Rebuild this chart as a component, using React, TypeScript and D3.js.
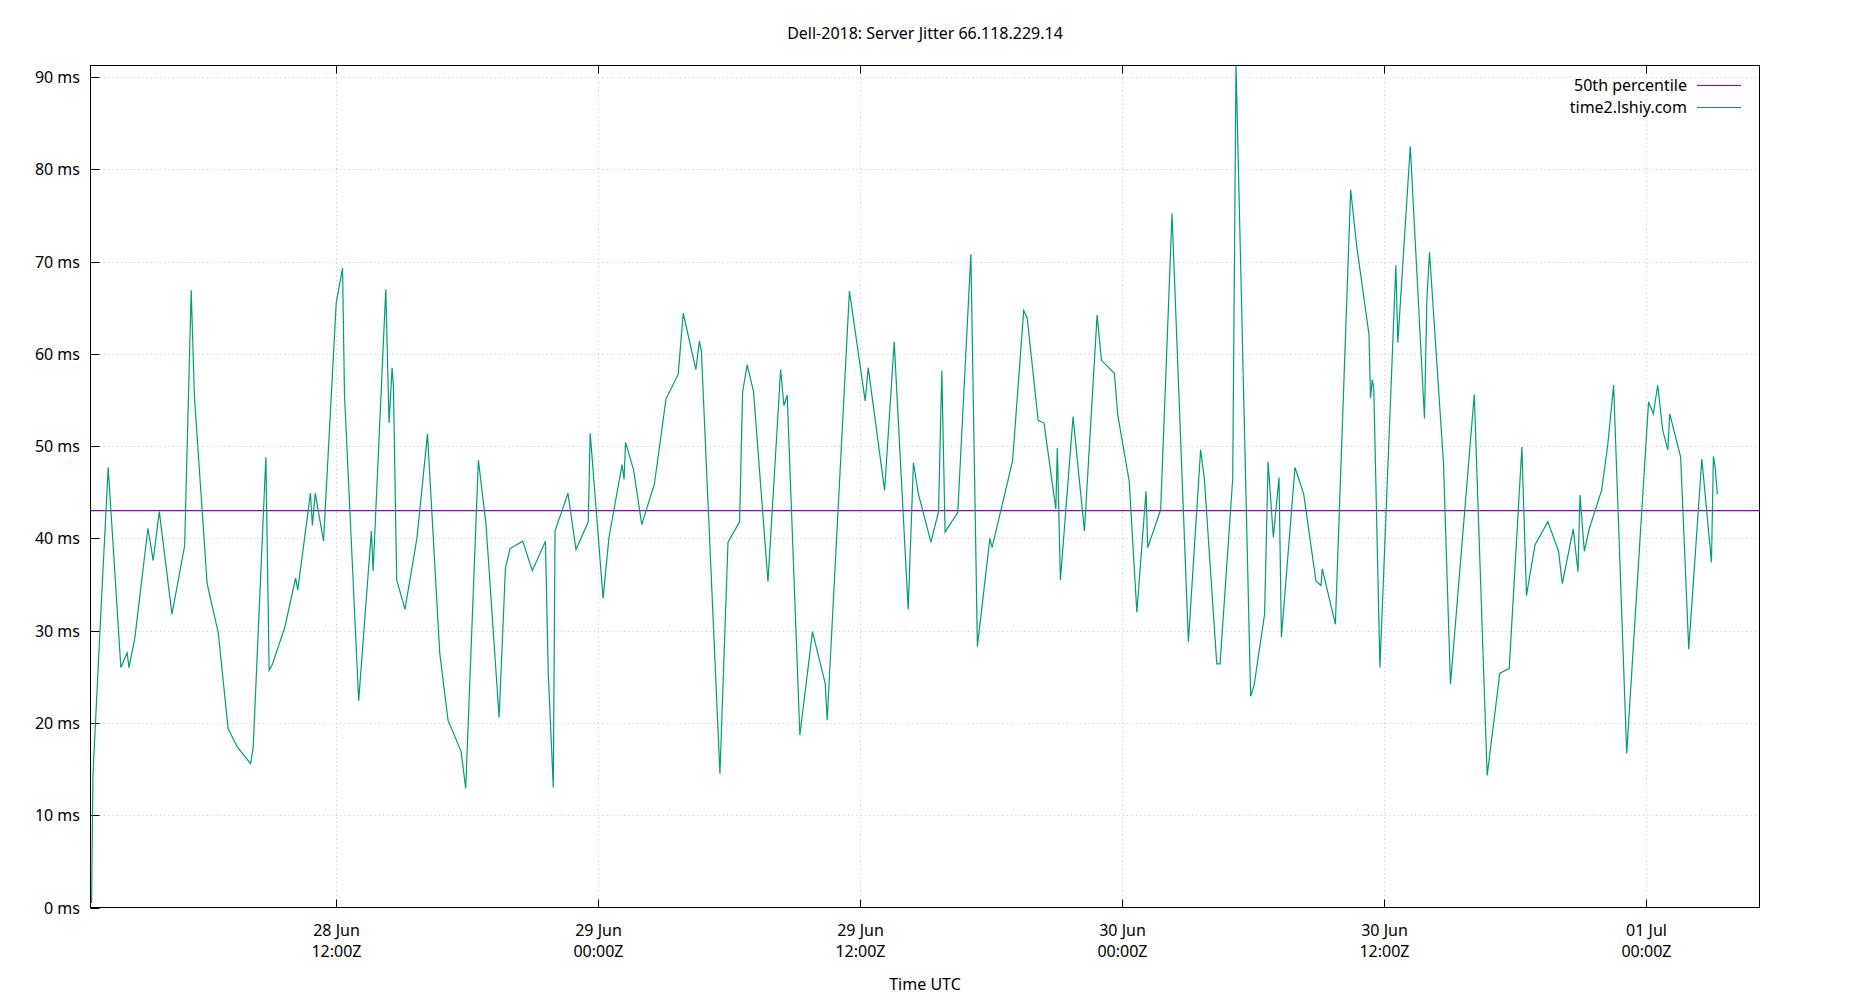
import { useEffect, useRef } from 'react';
import * as d3 from 'd3';

// sample times, hours after 28 Jun 00:00Z
const sampleHours = [
  0.82, 0.88, 1.0, 1.23, 1.58, 2.16, 2.45, 2.53, 2.8, 3.4, 3.64, 3.92, 4.5, 5.08, 5.38, 5.53,
  6.11, 6.62, 7.07, 7.49, 8.1, 8.22, 8.8, 8.95, 9.09, 9.67, 10.16, 10.26, 10.84, 10.93, 11.06,
  11.44, 12.02, 12.31, 12.4, 13.05, 13.63, 13.71, 14.29, 14.44, 14.58, 14.64, 14.79, 15.17,
  15.72, 16.2, 16.76, 17.14, 17.74, 17.95, 18.53, 18.88, 19.48, 19.77, 19.98, 20.56, 21.0,
  21.6, 21.73, 21.96, 22.04, 22.63, 23.0, 23.56, 23.65, 24.24, 24.51, 25.11, 25.2, 25.27,
  25.64, 26.01, 26.59, 27.12, 27.68, 27.91, 28.49, 28.65, 28.74, 29.59, 29.96, 30.49, 30.63,
  30.84, 31.13, 31.79, 32.37, 32.52, 32.67, 33.25, 33.83, 34.41, 34.5, 35.52, 36.24, 36.38,
  37.13, 37.57, 38.21, 38.45, 38.68, 39.25, 39.6, 39.75, 39.9, 40.48, 41.08, 41.38, 41.95,
  42.05, 42.99, 43.5, 43.66, 44.16, 44.43, 44.97, 45.04, 45.18, 45.76, 46.28, 46.86, 47.06,
  47.65, 47.81, 48.33, 48.68, 49.1, 49.18, 49.77, 50.29, 51.04, 51.6, 51.77, 52.34, 52.49,
  53.07, 53.22, 53.89, 54.05, 54.53, 54.69, 54.93, 55.19, 55.3, 55.92, 56.32, 56.88, 57.11,
  57.17, 57.77, 58.47, 58.74, 59.31, 59.38, 59.46, 59.53, 59.81, 60.54, 60.63, 61.2, 61.85,
  61.96, 62.08, 62.72, 63.04, 64.13, 64.72, 65.3, 65.73, 66.31, 66.52, 66.91, 67.5, 67.99,
  68.16, 68.66, 68.88, 68.97, 69.17, 69.4, 69.96, 70.24, 70.51, 71.11, 72.11, 72.33, 72.53,
  72.76, 72.99, 73.08, 73.58, 73.95, 74.55, 74.99, 75.08, 75.16, 75.26,
];

// jitter in ms for time2.lshiy.com
const jitterMs = [
  0.5, 14.2, 20.1, 31.3, 47.7, 26.0, 27.6, 26.0, 29.2, 41.1, 37.6, 42.9, 31.8, 39.2, 66.9, 55.3,
  35.1, 29.8, 19.4, 17.4, 15.6, 17.4, 48.8, 25.7, 26.3, 30.4, 35.7, 34.4, 44.9, 41.4, 44.9,
  39.7, 65.5, 69.3, 55.6, 22.4, 40.8, 36.5, 67.0, 52.5, 58.5, 56.5, 35.5, 32.3,
  40.1, 51.3, 27.6, 20.3, 16.9, 12.9, 48.5, 41.5, 20.6, 36.8, 38.9, 39.7, 36.5,
  39.7, 25.4, 13.0, 40.8, 44.9, 38.8, 41.8, 51.4, 33.5, 40.1, 48.0, 46.4, 50.4,
  47.4, 41.5, 45.9, 55.1, 57.8, 64.4, 58.3, 61.4, 60.3, 14.5, 39.6, 41.8, 55.9,
  58.8, 55.9, 35.3, 58.3, 54.4, 55.5, 18.7, 29.9, 24.3, 20.3, 66.8, 54.9, 58.5,
  45.2, 61.3, 32.3, 48.2, 44.8, 39.6, 42.9, 58.2, 40.7, 42.8, 70.8, 28.3, 40.0,
  39.0, 48.4, 64.7, 63.9, 52.8, 52.5, 43.2, 49.8, 35.5, 53.2, 40.8, 64.2, 59.3,
  57.9, 53.3, 46.2, 32.0, 45.1, 39.0, 43.1, 75.2, 28.8, 49.6, 46.5, 26.4, 26.4,
  46.5, 91.5, 22.9, 24.1, 31.8, 48.3, 40.1, 46.6, 29.3, 47.7, 44.8, 35.4, 34.9,
  36.7, 30.7, 77.8, 71.8, 62.1, 55.2, 57.2, 56.1, 26.0, 69.6, 61.2, 82.5, 53.0,
  65.9, 71.0, 48.2, 24.2, 55.6, 14.3, 25.4, 25.9, 49.9, 33.8, 39.3, 41.8, 38.6,
  35.1, 41.0, 36.4, 44.7, 38.6, 41.1, 45.2, 50.1, 56.6, 16.7, 54.8, 53.5, 56.6,
  51.7, 49.6, 53.5, 48.8, 28.0, 48.6, 37.4, 48.9, 47.7, 44.8,
];

const percentile50 = 43.0;
const yTicks = [0, 10, 20, 30, 40, 50, 60, 70, 80, 90];
const xTickHours = [12, 24, 36, 48, 60, 72];
const xDomainHours = [0.77, 77.19];
const yMax = 91.25;

const title = 'Dell-2018: Server Jitter 66.118.229.14';
const seriesName = 'time2.lshiy.com';
const percentileName = '50th percentile';
const xLabel = 'Time UTC';

const baseTime = Date.UTC(2019, 5, 28, 0, 0, 0);
const toDate = (h: number) => new Date(baseTime + h * 3600 * 1000);

const WIDTH = 1850;
const HEIGHT = 1000;
const FONT = '"Noto Sans", "Open Sans", sans-serif';

export default function App() {
  const svgRef = useRef<SVGSVGElement>(null);

  useEffect(() => {
    const svg = d3.select(svgRef.current);
    svg.selectAll('*').remove();

    const left = 90.5;
    const right = 1759.5;
    const top = 65.5;
    const bottom = 907.5;

    const x = d3.scaleUtc()
      .domain(xDomainHours.map(toDate))
      .range([left, right]);

    const y = d3.scaleLinear()
      .domain([0, yMax])
      .range([bottom, top]);

    svg.append('rect')
      .attr('width', WIDTH)
      .attr('height', HEIGHT)
      .attr('fill', 'white');

    // title
    svg.append('text')
      .attr('x', WIDTH / 2)
      .attr('y', 39)
      .attr('text-anchor', 'middle')
      .attr('font-family', FONT)
      .attr('font-size', 16)
      .attr('fill', '#000')
      .text(title);

    // dotted grid
    const grid = svg.append('g')
      .attr('stroke', '#c8c8c8')
      .attr('stroke-width', 1)
      .attr('stroke-dasharray', '1,3.3');

    grid.selectAll('line.h')
      .data(yTicks.filter(d => d > 0))
      .enter()
      .append('line')
      .attr('class', 'h')
      .attr('x1', left + 9)
      .attr('x2', right)
      .attr('y1', d => Math.round(y(d)) + 0.5)
      .attr('y2', d => Math.round(y(d)) + 0.5);

    grid.selectAll('line.v')
      .data(xTickHours)
      .enter()
      .append('line')
      .attr('class', 'v')
      .attr('x1', d => Math.round(x(toDate(d))) + 0.5)
      .attr('x2', d => Math.round(x(toDate(d))) + 0.5)
      .attr('y1', top + 8)
      .attr('y2', bottom - 8);

    // y axis ticks + labels
    const yAxis = svg.append('g');
    yTicks.forEach(t => {
      const yy = Math.round(y(t)) + 0.5;
      yAxis.append('line')
        .attr('x1', left)
        .attr('x2', left + 9)
        .attr('y1', yy)
        .attr('y2', yy)
        .attr('stroke', '#000');
      yAxis.append('text')
        .attr('x', 80)
        .attr('y', yy)
        .attr('dy', '0.35em')
        .attr('text-anchor', 'end')
        .attr('font-family', FONT)
        .attr('font-size', 16)
        .text(`${t} ms`);
    });

    // x axis ticks + two line labels
    const fmtDay = d3.utcFormat('%d %b');
    const fmtTime = d3.utcFormat('%H:%MZ');
    const xAxis = svg.append('g');
    xTickHours.forEach(h => {
      const d = toDate(h);
      const xx = Math.round(x(d)) + 0.5;
      xAxis.append('line')
        .attr('x1', xx).attr('x2', xx)
        .attr('y1', bottom).attr('y2', bottom - 8)
        .attr('stroke', '#000');
      xAxis.append('line')
        .attr('x1', xx).attr('x2', xx)
        .attr('y1', top).attr('y2', top + 8)
        .attr('stroke', '#000');
      const label = xAxis.append('text')
        .attr('text-anchor', 'middle')
        .attr('font-family', FONT)
        .attr('font-size', 16);
      label.append('tspan').attr('x', xx).attr('y', 936).text(fmtDay(d));
      label.append('tspan').attr('x', xx).attr('y', 957).text(fmtTime(d));
    });

    svg.append('text')
      .attr('x', (left + right) / 2)
      .attr('y', 990)
      .attr('text-anchor', 'middle')
      .attr('font-family', FONT)
      .attr('font-size', 16)
      .text(xLabel);

    // clip to plot area
    svg.append('defs')
      .append('clipPath')
      .attr('id', 'plot-clip')
      .append('rect')
      .attr('x', left)
      .attr('y', top)
      .attr('width', right - left)
      .attr('height', bottom - top);

    const plot = svg.append('g').attr('clip-path', 'url(#plot-clip)');

    // median line
    plot.append('line')
      .attr('x1', left)
      .attr('x2', right)
      .attr('y1', y(percentile50))
      .attr('y2', y(percentile50))
      .attr('stroke', '#9400d3')
      .attr('stroke-width', 1.2);

    const points = sampleHours.map((h, i) => ({ t: toDate(h), v: jitterMs[i] }));
    const line = d3.line<{ t: Date; v: number }>()
      .x(d => x(d.t))
      .y(d => y(d.v));

    plot.append('path')
      .datum(points)
      .attr('fill', 'none')
      .attr('stroke', '#009e73')
      .attr('stroke-width', 1.2)
      .attr('stroke-linejoin', 'miter')
      .attr('d', line);

    // border
    svg.append('rect')
      .attr('x', left)
      .attr('y', top)
      .attr('width', right - left)
      .attr('height', bottom - top)
      .attr('fill', 'none')
      .attr('stroke', '#000')
      .attr('stroke-width', 1);

    // legend
    const legendItems = [
      { name: percentileName, color: '#9400d3' },
      { name: seriesName, color: '#009e73' },
    ];
    const legend = svg.append('g');
    legendItems.forEach((item, i) => {
      const ly = 85 + i * 22.3;
      legend.append('text')
        .attr('x', 1687)
        .attr('y', ly)
        .attr('dy', '0.35em')
        .attr('text-anchor', 'end')
        .attr('font-family', FONT)
        .attr('font-size', 16)
        .text(item.name);
      legend.append('line')
        .attr('x1', 1697)
        .attr('x2', 1741)
        .attr('y1', Math.round(ly) + 0.5)
        .attr('y2', Math.round(ly) + 0.5)
        .attr('stroke', item.color)
        .attr('stroke-width', 1.2);
    });
  }, []);

  return (
    <svg
      ref={svgRef}
      width={WIDTH}
      height={HEIGHT}
      style={{ position: 'absolute', left: 0, top: 0, display: 'block' }}
    />
  );
}
